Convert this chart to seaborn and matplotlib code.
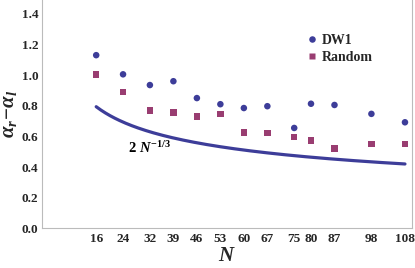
import numpy as np
import pandas as pd
import matplotlib
matplotlib.use('Agg')
import matplotlib.pyplot as plt
import seaborn as sns
from matplotlib.ticker import MultipleLocator

N = [16, 24, 32, 39, 46, 53, 60, 67, 75, 80, 87, 98, 108]
dw1 = [1.13, 1.005, 0.935, 0.96, 0.85, 0.81, 0.785, 0.797, 0.655, 0.813, 0.805, 0.747, 0.692]
rand = [1.005, 0.89, 0.77, 0.755, 0.73, 0.745, 0.624, 0.622, 0.596, 0.573, 0.522, 0.55, 0.55]

blue = '#3d3d99'
maroon = '#993d71'

sns.set_style('white')
plt.rcParams['font.family'] = ['Liberation Serif', 'DejaVu Serif']
plt.rcParams['font.weight'] = 'bold'
plt.rcParams['mathtext.fontset'] = 'custom'
plt.rcParams['mathtext.rm'] = 'Liberation Serif:bold'
plt.rcParams['mathtext.it'] = 'Liberation Serif:italic:bold'
plt.rcParams['mathtext.bf'] = 'Liberation Serif:bold'

fig = plt.figure(figsize=(4.15, 2.68), dpi=100)
ax = fig.add_axes([0.1024, 0.148, 0.8896, 0.852])

# the reference curve 2 N^(-1/3)
curve_n = np.linspace(16, 108, 200)
curve = pd.DataFrame({'N': curve_n, 'v': 2 * curve_n ** (-1 / 3)})
sns.lineplot(data=curve, x='N', y='v', color=blue, linewidth=2.3, ax=ax)

df = pd.DataFrame({'N': N + N, 'v': dw1 + rand,
                   'series': ['DW1'] * len(N) + ['Random'] * len(N)})
sns.scatterplot(data=df, x='N', y='v', hue='series', style='series',
                markers={'DW1': 'o', 'Random': 's'},
                palette={'DW1': blue, 'Random': maroon},
                s=22, edgecolor='none', ax=ax)

ax.set_xlim(0, 110)
ax.set_ylim(0, 1.49)
ax.set_xticks(N)
ax.set_xticklabels([str(n) for n in N], fontsize=9.5, fontweight='bold')
ax.yaxis.set_minor_locator(MultipleLocator(0.05))
yt = np.arange(0, 1.41, 0.2)
ax.set_yticks(yt)
ax.set_yticklabels([f'{v:.1f}' for v in yt], fontsize=9.5, fontweight='bold')
ax.tick_params(axis='both', which='both', direction='in', color='#aaaaaa', pad=3)
ax.tick_params(axis='both', which='major', length=4, width=0.6)
ax.tick_params(axis='y', which='minor', length=2, width=0.5)

for side in ['left', 'bottom', 'right']:
    ax.spines[side].set_color('#bbbbbb')
    ax.spines[side].set_linewidth(0.8)
ax.spines['top'].set_visible(False)

ax.set_xlabel(r'$N$', fontsize=15, labelpad=2)
ax.set_ylabel(r'$\alpha_r\!-\!\alpha_l$', fontsize=15, labelpad=2)

ax.text(25.5, 0.49, r'$\mathrm{2}\ N^{\mathrm{-1/3}}$', fontsize=10.5, color='black')

handles, labels = ax.get_legend_handles_labels()
leg = ax.legend(handles[-2:], labels[-2:], loc='upper left', bbox_to_anchor=(0.70, 0.875),
                frameon=False, handlelength=0.8, handletextpad=0.3, labelspacing=0.25,
                borderaxespad=0, prop={'family': 'Liberation Serif', 'weight': 'bold', 'size': 10})

fig.savefig('out.png', dpi=100)
